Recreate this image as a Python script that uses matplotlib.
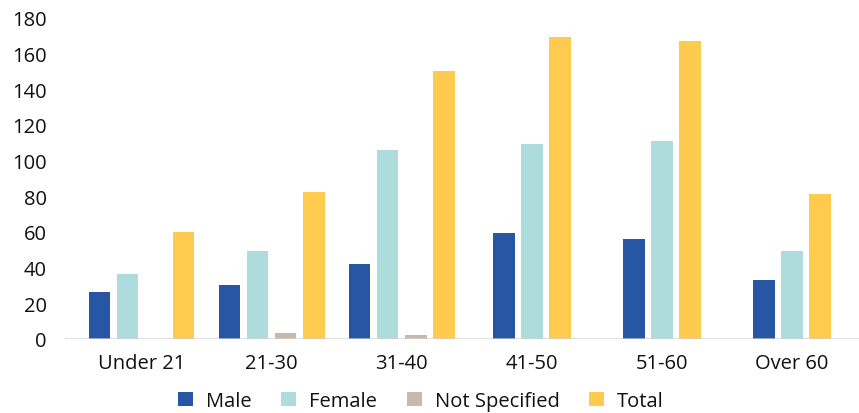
import matplotlib
matplotlib.use("Agg")
import matplotlib.pyplot as plt
import numpy as np

# Respondents by age band and gender (None = no value recorded)
categories = ["Under 21", "21-30", "31-40", "41-50", "51-60", "Over 60"]
male = [26, 30, 42, 59, 56, 33]
female = [36, 49, 106, 109, 111, 49]
not_specified = [0, 3, 2, None, None, None]
total = [60, 82, 150, 169, 167, 81]
y_ticks = [0, 20, 40, 60, 80, 100, 120, 140, 160, 180]

series = [
    ("Male", male, "#2756A4"),
    ("Female", female, "#AEDBDB"),
    ("Not Specified", not_specified, "#C9B9AC"),
    ("Total", total, "#FECB4F"),
]

plt.rcParams["font.family"] = ["Open Sans", "DejaVu Sans"]
text_color = "#111111"
font_size = 14.5

fig = plt.figure(figsize=(8.59, 4.14), dpi=100)
ax = fig.add_axes([65 / 859, 0.1795, 1 - 65 / 859, 0.7753])

step = 0.2154
width = 0.169

# Bars in each group are packed and centred; series with no value take no slot
for gi in range(len(categories)):
    present = [(name, vals[gi], color) for name, vals, color in series
               if vals[gi] is not None]
    n = len(present)
    for j, (name, v, color) in enumerate(present):
        ax.bar(gi + (j - (n - 1) / 2) * step, v, width=width, color=color,
               zorder=2, linewidth=0)

handles = [plt.Rectangle((0, 0), 1, 1, color=c, linewidth=0) for _, _, c in series]
labels = [name for name, _, _ in series]

ax.set_xlim(-0.5885, 5.519)
ax.set_ylim(0, 180)
ax.set_yticks(y_ticks)
ax.set_xticks(np.arange(len(categories)))
ax.set_xticklabels(categories)
ax.tick_params(axis="both", length=0, labelsize=font_size, colors=text_color)
ax.tick_params(axis="y", pad=13)
ax.tick_params(axis="x", pad=10)

for side in ["top", "right", "left", "bottom"]:
    ax.spines[side].set_visible(False)
ax.axhline(0, color="#cfcfcf", linewidth=2, alpha=0.75, zorder=3)

fig.legend(handles, labels, loc="center", bbox_to_anchor=(421 / 859, 1 - 402 / 414),
           ncol=4, frameon=False, fontsize=font_size, handlelength=0.75,
           handleheight=0.75, handletextpad=0.65, columnspacing=1.45,
           labelcolor=text_color)

fig.savefig("out.png", dpi=100)
